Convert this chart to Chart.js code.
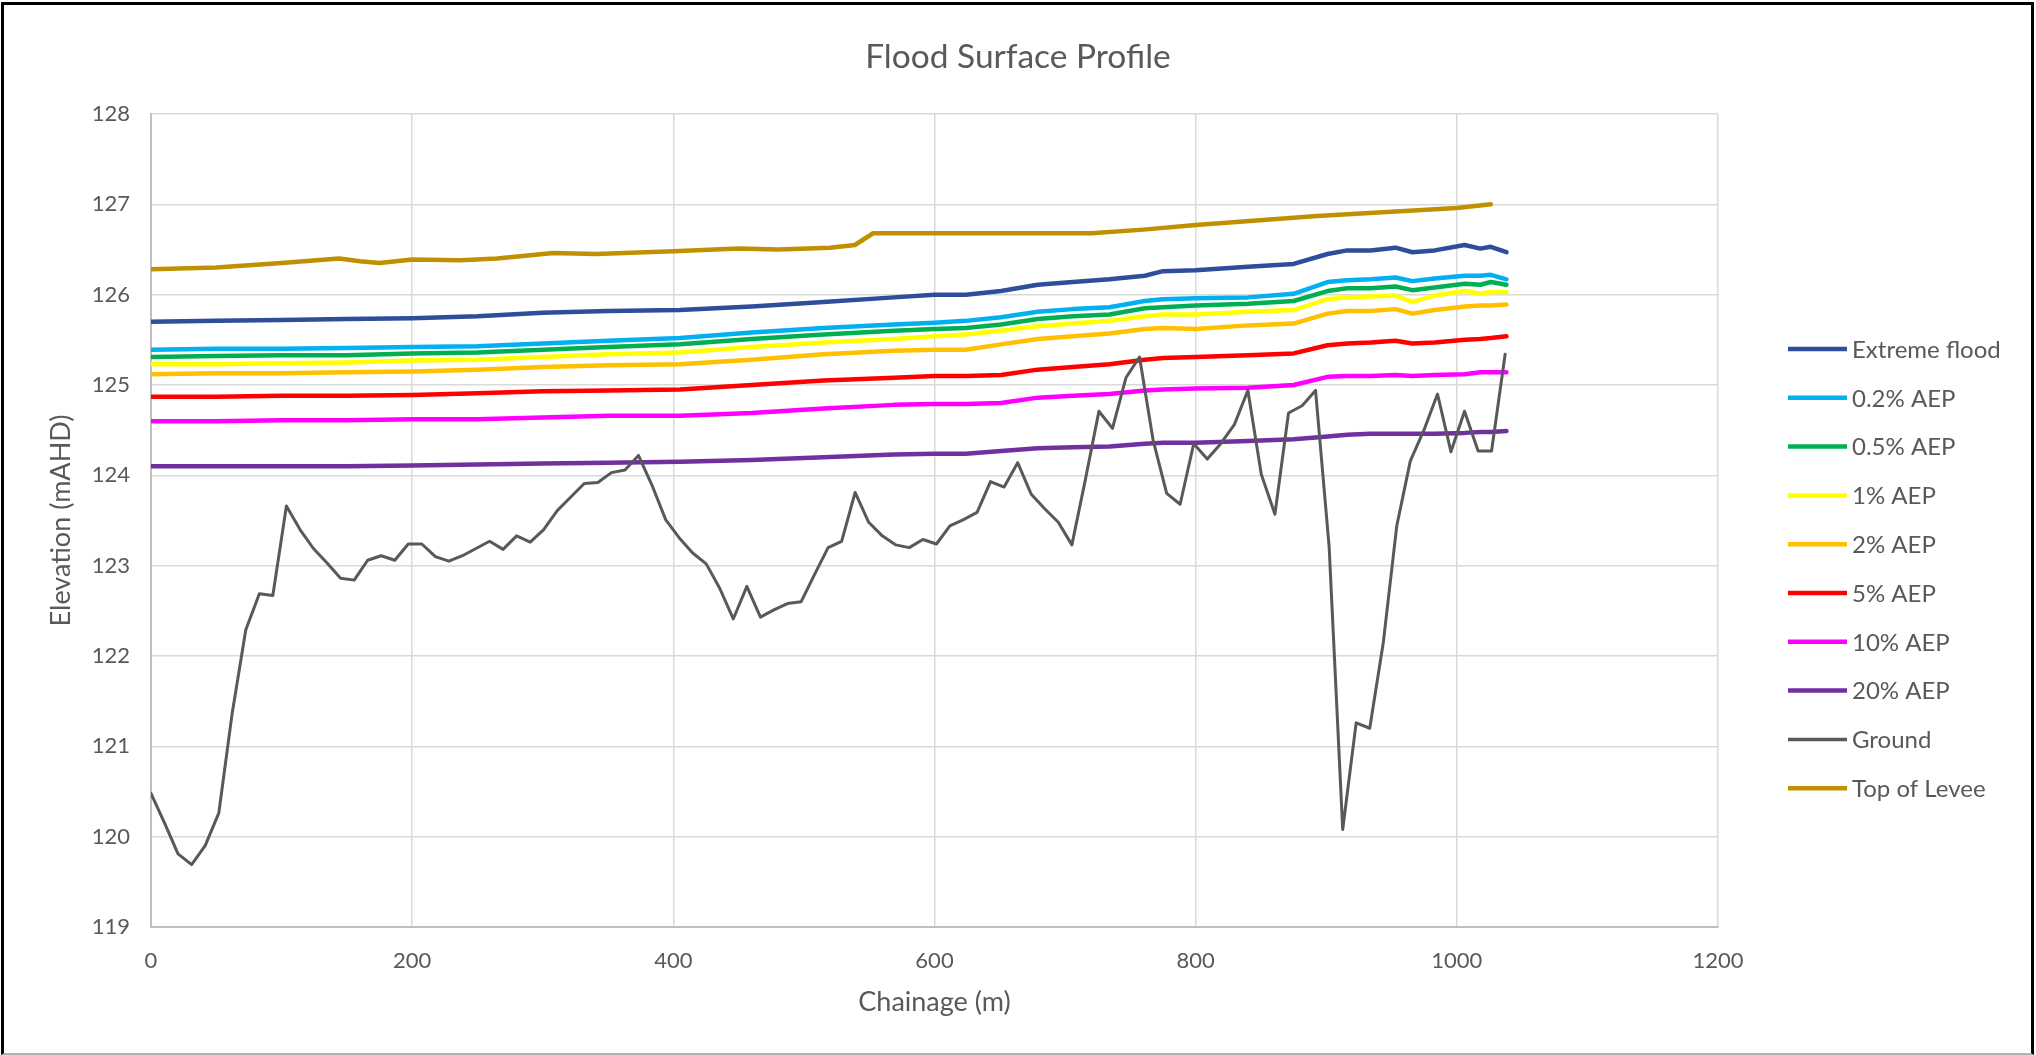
<!DOCTYPE html>
<html><head><meta charset="utf-8">
<script src="https://cdn.jsdelivr.net/npm/chart.js@4.4.1/dist/chart.umd.min.js"></script>
<style>
html,body{margin:0;padding:0;background:#fff;}
#wrap{position:relative;width:2036px;height:1055px;overflow:hidden;background:#fff;}
canvas{position:absolute;left:0;top:0;}
#frame{position:absolute;left:1px;top:2px;right:2px;bottom:0px;border:3px solid #000;border-bottom:2px solid #b0b0b0;pointer-events:none;}
</style></head>
<body><div id="wrap"><canvas id="c" width="2036" height="1055"></canvas><div id="frame"></div></div>
<script>
// ---- data ----
const chartTitle = 'Flood Surface Profile';
const xTitle = 'Chainage (m)';
const yTitle = 'Elevation (mAHD)';
const xTickValues = [0, 200, 400, 600, 800, 1000, 1200];
const yTickValues = [119, 120, 121, 122, 123, 124, 125, 126, 127, 128];

const seriesNames = ['Extreme flood', '0.2% AEP', '0.5% AEP', '1% AEP', '2% AEP', '5% AEP', '10% AEP', '20% AEP', 'Ground', 'Top of Levee'];

const chainage = [0,10.4,20.7,31.1,41.5,51.9,62.2,72.6,83.0,93.3,103.7,114.1,124.4,134.8,145.2,155.6,165.9,176.3,186.7,197.0,
207.4,217.8,228.1,238.5,248.9,259.3,269.6,280.0,290.4,300.7,311.1,321.5,331.8,342.2,352.6,363.0,373.3,383.7,394.1,404.4,
414.8,425.2,435.5,445.9,456.3,466.7,477.0,487.4,497.8,508.1,518.5,528.9,539.2,549.6,560.0,570.4,580.7,591.1,601.5,611.8,
622.2,632.6,642.9,653.3,663.7,674.1,684.4,694.8,705.2,715.5,725.9,736.3,746.6,757.0,767.4,777.8,788.1,798.5,808.9,819.2,
829.6,840.0,850.3,860.7,871.1,881.5,891.8,902.2,912.6,922.9,933.3,943.7,954.0,964.4,974.8,985.2,995.5,1005.9,1016.3,1026.6,1037.0];

const ground = [120.48,120.15,119.81,119.69,119.90,120.26,121.37,122.29,122.69,122.67,123.66,123.40,123.19,123.03,122.86,122.84,123.06,123.11,123.06,123.24,
123.24,123.10,123.05,123.11,123.19,123.27,123.18,123.33,123.26,123.40,123.61,123.76,123.91,123.92,124.03,124.06,124.22,123.89,123.51,123.31,
123.14,123.02,122.75,122.41,122.77,122.43,122.51,122.58,122.60,122.90,123.20,123.27,123.81,123.48,123.33,123.23,123.20,123.29,123.24,123.44,
123.51,123.59,123.93,123.87,124.14,123.79,123.63,123.48,123.23,123.95,124.71,124.52,125.08,125.31,124.39,123.80,123.68,124.35,124.18,124.35,
124.56,124.94,124.01,123.57,124.69,124.77,124.94,123.21,120.08,121.26,121.20,122.15,123.44,124.16,124.50,124.90,124.26,124.71,124.27,124.27,125.34];

const floodChainage = [0,50,100,150,200,250,300,350,405,460,515,569,600,624,651,679,706,734,761,775,800,840,875,901,916,934,953,966,983,1006,1018,1026,1038];
const extremeFlood = [125.70,125.71,125.72,125.73,125.74,125.76,125.80,125.82,125.83,125.87,125.92,125.97,126.00,126.00,126.04,126.11,126.14,126.17,126.21,126.26,126.27,126.31,126.34,126.45,126.49,126.49,126.52,126.47,126.49,126.55,126.51,126.53,126.47];
const aep02 = [125.39,125.40,125.40,125.41,125.42,125.43,125.46,125.49,125.52,125.58,125.63,125.67,125.69,125.71,125.75,125.81,125.84,125.86,125.93,125.95,125.96,125.97,126.01,126.14,126.16,126.17,126.19,126.15,126.18,126.21,126.21,126.22,126.17];
const aep05 = [125.31,125.32,125.33,125.33,125.35,125.36,125.39,125.42,125.45,125.51,125.56,125.60,125.62,125.63,125.67,125.73,125.76,125.78,125.85,125.86,125.88,125.90,125.93,126.04,126.07,126.07,126.09,126.05,126.08,126.12,126.11,126.14,126.11];
const aep1 = [125.23,125.23,125.24,125.25,125.27,125.28,125.31,125.34,125.36,125.42,125.47,125.51,125.54,125.56,125.60,125.65,125.68,125.71,125.76,125.78,125.78,125.81,125.83,125.95,125.97,125.98,125.99,125.92,125.99,126.04,126.01,126.03,126.03];
const aep2 = [125.12,125.13,125.13,125.14,125.15,125.17,125.20,125.22,125.23,125.28,125.34,125.38,125.39,125.39,125.45,125.51,125.54,125.57,125.62,125.63,125.62,125.66,125.68,125.79,125.82,125.82,125.84,125.79,125.83,125.87,125.88,125.88,125.89];
const aep5 = [124.87,124.87,124.88,124.88,124.89,124.91,124.93,124.94,124.95,125.00,125.05,125.08,125.10,125.10,125.11,125.17,125.20,125.23,125.28,125.30,125.31,125.33,125.35,125.44,125.46,125.47,125.49,125.46,125.47,125.50,125.51,125.52,125.54];
const aep10 = [124.60,124.60,124.61,124.61,124.62,124.62,124.64,124.66,124.66,124.69,124.74,124.78,124.79,124.79,124.80,124.86,124.88,124.90,124.94,124.95,124.96,124.97,125.00,125.09,125.10,125.10,125.11,125.10,125.11,125.12,125.14,125.14,125.14];
const aep20 = [124.10,124.10,124.10,124.10,124.11,124.12,124.13,124.14,124.15,124.17,124.20,124.23,124.24,124.24,124.27,124.30,124.31,124.32,124.35,124.36,124.36,124.38,124.40,124.43,124.45,124.46,124.46,124.46,124.46,124.47,124.48,124.48,124.49];

const leveeChainage = [0,50,100,144,160,175,200,237,265,308,341,400,450,480,520,539,553,600,650,700,720,760,800,893,1000,1026];
const topOfLevee = [126.28,126.30,126.35,126.40,126.37,126.35,126.39,126.38,126.40,126.46,126.45,126.48,126.51,126.50,126.52,126.55,126.68,126.68,126.68,126.68,126.68,126.72,126.77,126.87,126.96,127.00];

// ---- styling ----
const FONT = 'Lato, "Open Sans", sans-serif';
const TXT = '#595959';
const seriesColors = ['#2E4D9B', '#00B0F0', '#00B050', '#FFFF00', '#FFC000', '#FF0000', '#FF00FF', '#7030A0', '#595959', '#BF9000'];

function pts(xs, ys) { return xs.map((x, i) => ({ x: x, y: ys[i] })); }

const seriesData = [
  pts(floodChainage, extremeFlood), pts(floodChainage, aep02), pts(floodChainage, aep05), pts(floodChainage, aep1),
  pts(floodChainage, aep2), pts(floodChainage, aep5), pts(floodChainage, aep10), pts(floodChainage, aep20),
  pts(chainage, ground), pts(leveeChainage, topOfLevee)
];

const datasets = seriesNames.map((name, i) => ({
  label: name,
  data: seriesData[i],
  showLine: true,
  borderColor: seriesColors[i],
  backgroundColor: seriesColors[i],
  borderWidth: name === 'Ground' ? 3 : 4.5,
  pointRadius: 0,
  pointHoverRadius: 0,
  tension: 0,
  fill: false,
  order: seriesNames.length - i,
  borderJoinStyle: 'round',
  borderCapStyle: 'round'
}));

const legendPlugin = {
  id: 'sideLegend',
  afterDraw(chart) {
    const ctx = chart.ctx;
    ctx.save();
    ctx.font = '24px ' + FONT;
    ctx.textBaseline = 'middle';
    ctx.textAlign = 'left';
    chart.data.datasets.forEach((ds, i) => {
      const y = 349 + i * 48.8;
      ctx.strokeStyle = ds.borderColor;
      ctx.lineWidth = ds.label === 'Ground' ? 3.5 : 4.5;
      ctx.lineCap = 'butt';
      ctx.beginPath();
      ctx.moveTo(1788, y);
      ctx.lineTo(1847, y);
      ctx.stroke();
      ctx.fillStyle = TXT;
      ctx.fillText(ds.label, 1852, y + 1);
    });
    ctx.restore();
  }
};

new Chart(document.getElementById('c'), {
  type: 'scatter',
  data: { datasets: datasets },
  plugins: [legendPlugin],
  options: {
    responsive: false,
    animation: false,
    devicePixelRatio: 1,
    layout: { padding: 0 },
    plugins: {
      legend: { display: false },
      tooltip: { enabled: false },
      title: {
        display: true,
        text: chartTitle,
        color: TXT,
        font: { family: FONT, size: 33.5, weight: 'normal', lineHeight: 1.2 },
        padding: { top: 37, bottom: 36.8 }
      }
    },
    scales: {
      x: {
        type: 'linear',
        min: 0, max: 1200,
        afterBuildTicks: (s) => { s.ticks = xTickValues.map(v => ({ value: v })); },
        afterFit: (s) => { s.height = 128; },
        ticks: { color: TXT, font: { family: FONT, size: 22 }, padding: 21, callback: (v) => String(v), maxRotation: 0 },
        grid: { color: '#d9d9d9', lineWidth: 1.5, drawTicks: false },
        border: { color: '#bfbfbf', width: 2 },
        title: { display: true, text: xTitle, color: TXT, font: { family: FONT, size: 27, lineHeight: 1.2 }, padding: { top: 0, bottom: 37 } }
      },
      y: {
        type: 'linear',
        min: 119, max: 128,
        afterBuildTicks: (s) => { s.ticks = yTickValues.map(v => ({ value: v })); },
        afterFit: (s) => { s.width = 151; },
        ticks: { color: TXT, font: { family: FONT, size: 22 }, padding: 21, callback: (v) => String(v) },
        grid: { color: '#d9d9d9', lineWidth: 1.5, drawTicks: false },
        border: { color: '#bfbfbf', width: 2 },
        title: { display: true, text: yTitle, color: TXT, font: { family: FONT, size: 27, lineHeight: 1.2 }, padding: { top: 45, bottom: 0 } }
      },
      yRight: {
        type: 'linear',
        position: 'right',
        display: true,
        min: 119, max: 128,
        afterFit: (s) => { s.width = 318; },
        ticks: { display: false },
        grid: { display: false, drawOnChartArea: false },
        border: { display: false },
        title: { display: false }
      }
    }
  }
});
</script>
</body></html>
